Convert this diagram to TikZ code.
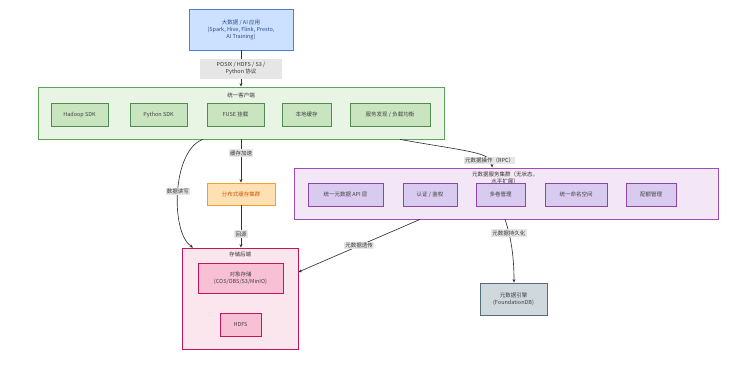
\documentclass[tikz,border=0pt]{standalone}
\usepackage{fontspec}
\setmainfont{Noto Sans CJK SC}
\usetikzlibrary{arrows.meta}
\definecolor{bluefill}{HTML}{CCE0FF}
\definecolor{blueline}{HTML}{4A7FD4}
\definecolor{bluetext}{HTML}{2C4F8C}
\definecolor{greenfill}{HTML}{E9F5E4}
\definecolor{greenline}{HTML}{5FA35F}
\definecolor{greenbox}{HTML}{C9E5C0}
\definecolor{orangefill}{HTML}{FFE0B2}
\definecolor{orangeline}{HTML}{F0A030}
\definecolor{orangetext}{HTML}{C85A10}
\definecolor{purplefill}{HTML}{F3E6F6}
\definecolor{purpleline}{HTML}{9C4FB5}
\definecolor{purplebox}{HTML}{D9CAF0}
\definecolor{pinkfill}{HTML}{FCE6EE}
\definecolor{pinkline}{HTML}{C2185B}
\definecolor{pinkbox}{HTML}{F8C0D4}
\definecolor{grayfill}{HTML}{CFD8DC}
\definecolor{grayline}{HTML}{546E7A}
\definecolor{lblfill}{HTML}{E6E6E6}
\definecolor{edgecol}{HTML}{333333}
\tikzset{
  base/.style={draw, rectangle, align=center, inner sep=1pt, font=\fontsize{5.5}{7}\selectfont, line width=0.8pt},
  cluster/.style={draw, rectangle, line width=0.8pt},
  lbl/.style={fill=lblfill, inner sep=1.2pt, font=\fontsize{5.5}{7}\selectfont, text=black!80, align=center},
  ttl/.style={font=\fontsize{5.5}{7}\selectfont, text=black!80, align=center},
  arr/.style={draw=edgecol, line width=0.65pt, -{Stealth[length=3.5pt,width=3pt]}},
}
\begin{document}
\begin{tikzpicture}[x=1pt,y=-1pt]
\useasboundingbox (0,0) rectangle (735,372);
% clusters
\node[cluster, fill=greenfill, draw=greenline, minimum width=406pt, minimum height=52pt] (client) at (241,113) {};
\node[ttl] (clientT) at (241,95) {统一客户端};
\node[cluster, fill=purplefill, draw=purpleline, minimum width=424pt, minimum height=51pt] (meta) at (506,193.5) {};
\node[ttl] (metaT) at (505,177.5) {元数据服务集群（无状态，\\水平扩展）};
\node[cluster, fill=pinkfill, draw=pinkline, minimum width=116pt, minimum height=101pt] (store) at (240,298.5) {};
\node[ttl] (storeT) at (240,254) {存储后端};
% top
\node[base, fill=bluefill, draw=blueline, text=bluetext, minimum width=104pt, minimum height=41pt] (app) at (241,29.5) {大数据 / AI 应用\\(Spark, Hive, Flink, Presto,\\AI Training)};
% client boxes
\tikzset{gbox/.style={base, fill=greenbox, draw=greenline!85!black, text=black!75, minimum height=23pt}}
\node[gbox, minimum width=57pt] (hsdk) at (79.5,114.5) {Hadoop SDK};
\node[gbox, minimum width=57pt] (psdk) at (158.5,114.5) {Python SDK};
\node[gbox, minimum width=57pt] (fuse) at (235.5,114.5) {FUSE 挂载};
\node[gbox, minimum width=49pt] (lcache) at (306.5,114.5) {本地缓存};
\node[gbox, minimum width=80pt] (disc) at (390,114.5) {服务发现 / 负载均衡};
% cache
\node[base, fill=orangefill, draw=orangeline, text=orangetext, minimum width=68pt, minimum height=22pt] (cache) at (241,194) {分布式缓存集群};
% meta boxes
\tikzset{pbox/.style={base, fill=purplebox, draw=purpleline!90!black, text=black!75, minimum height=23pt}}
\node[pbox, minimum width=75pt] (api) at (345.5,194.5) {统一元数据 API 层};
\node[pbox, minimum width=54pt] (auth) at (430,194.5) {认证 / 鉴权};
\node[pbox, minimum width=49pt] (vol) at (500.5,194.5) {多卷管理};
\node[pbox, minimum width=62pt] (ns) at (576,194.5) {统一命名空间};
\node[pbox, minimum width=50pt] (quota) at (651,194.5) {配额管理};
% storage boxes
\tikzset{kbox/.style={base, fill=pinkbox, draw=pinkline, text=black!75}}
\node[kbox, minimum width=85pt, minimum height=30pt] (obj) at (240.5,278) {对象存储\\(COS/OBS/S3/MinIO)};
\node[kbox, minimum width=41pt, minimum height=23pt] (hdfs) at (240.5,324.5) {HDFS};
% fdb
\node[base, fill=grayfill, draw=grayline, text=black!75, minimum width=67pt, minimum height=32pt] (fdb) at (513.5,299) {元数据引擎\\(FoundationDB)};
% coordinates
\coordinate (c1) at (client.south -| 203,0);
\coordinate (c2) at (client.south -| 400,0);
\coordinate (m1) at (meta.south -| 420,0);
\coordinate (m2) at (meta.south -| 505,0);
\coordinate (m3) at (meta.north -| 492,0);
\coordinate (s1) at (store.north -| 193,0);
\coordinate (s2) at (store.east |- 0,272);
\coordinate (f1) at (fdb.north -| 514,0);
% edges
\draw[arr] (app) -- node[lbl, minimum width=82pt, minimum height=20pt] {POSIX / HDFS / S3 /\\Python 协议} (client);
\draw[arr] (client.south -| cache) -- node[lbl, pos=0.32] {缓存加速} (cache);
\draw[arr] (cache) -- node[lbl, pos=0.68] {回源} (store.north -| cache);
\draw[arr] (c1) .. controls (172,150) and (170,232) .. node[lbl, pos=0.5] {数据读写} (s1);
\draw[arr] (c2) .. controls (470,152) and (492,152) .. node[lbl, pos=0.82] {元数据操作（RPC）} (m3);
\draw[arr] (m1) -- node[lbl, pos=0.5] {元数据透传} (s2);
\draw[arr] (m2) .. controls (512,240) and (514,260) .. node[lbl, pos=0.22] {元数据持久化} (f1);
\end{tikzpicture}
\end{document}
